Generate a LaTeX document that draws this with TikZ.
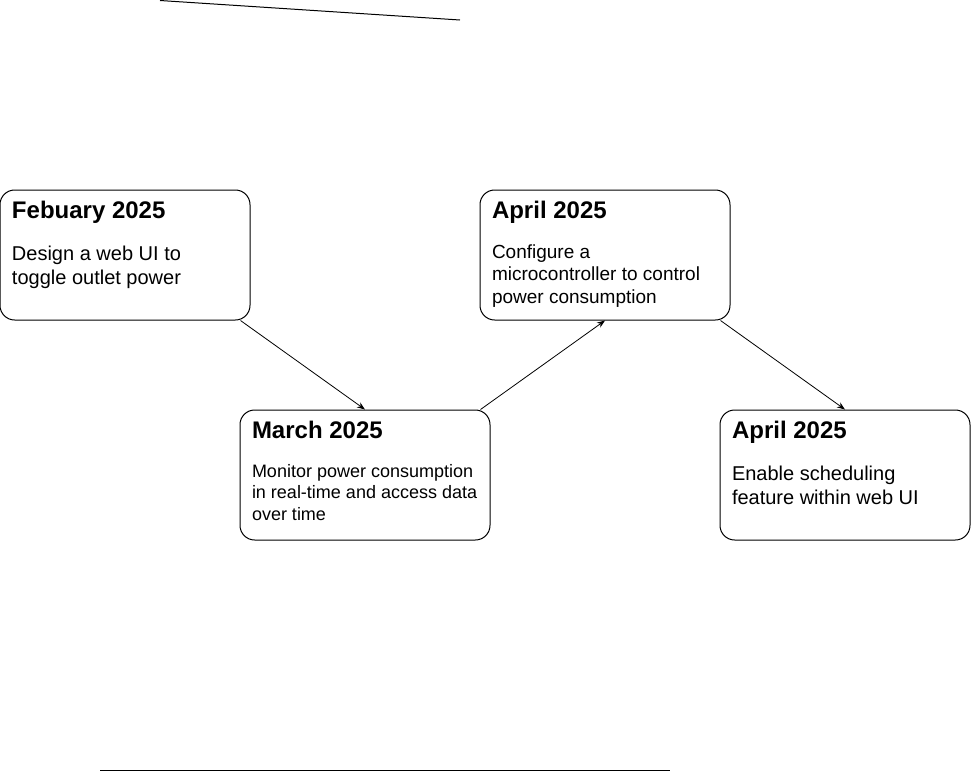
\documentclass[tikz,border=0pt]{standalone}
\usepackage{fontspec}
\setmainfont{Liberation Sans}
\usetikzlibrary{arrows.meta}

\begin{document}
\begin{tikzpicture}[x=0.75pt, y=-0.75pt, line width=0.75pt]
	\tikzset{etape/.style={draw=black, rounded corners=11pt, minimum width=187.5pt, minimum height=97.5pt, inner sep=0pt},
		titre/.style={anchor=base west, inner sep=0pt, font=\bfseries\fontsize{18pt}{21.6pt}\selectfont},
		corps/.style={anchor=base west, inner sep=0pt, align=left, font=\fontsize{15pt}{18pt}\selectfont},
		fleche/.style={-{Stealth[length=6pt, width=4.5pt]}, line width=0.6pt}};

	\useasboundingbox (0,0) rectangle (971,772);

	% les quatre etapes
	\node[etape] (fev)    at (125, 255) {};
	\node[etape] (avril1) at (605, 255) {};
	\node[etape] (mars)   at (365, 475) {};
	\node[etape] (avril2) at (845, 475) {};

	\node[titre] (fev-t)    at ([shift={(12,29)}]fev.north west)    {Febuary 2025};
	\node[titre] (avril1-t) at ([shift={(12,29)}]avril1.north west) {April 2025};
	\node[titre] (mars-t)   at ([shift={(12,29)}]mars.north west)   {March 2025};
	\node[titre] (avril2-t) at ([shift={(12,29)}]avril2.north west) {April 2025};

	% (la base d'un texte sur plusieurs lignes est celle de sa derniere ligne)
	\node[corps] (fev-c)    at ([shift={(12,95)}]fev.north west)    {Design a web UI to\\toggle outlet power};
	\node[corps, font=\fontsize{14.25pt}{17pt}\selectfont] (avril1-c) at ([shift={(12,114)}]avril1.north west) {Configure a\\microcontroller to control\\power consumption};
	\node[corps, font=\fontsize{13.5pt}{16.2pt}\selectfont] (mars-c) at ([shift={(12,111)}]mars.north west) {Monitor power consumption\\in real-time and access data\\over time};
	\node[corps] (avril2-c) at ([shift={(12,95)}]avril2.north west) {Enable scheduling\\feature within web UI};

	% fleches
	\draw[fleche] ([xshift=-7.5pt]fev.south east) -- (mars.north);
	\draw[fleche] ([xshift=-7.5pt]mars.north east) -- (avril1.south);
	\draw[fleche] ([xshift=-7.5pt]avril1.south east) -- (avril2.north);

	% traits isoles
	\coordinate (h1) at (160, 0.5);
	\coordinate (h2) at (460, 20);
	\coordinate (b1) at (100, 770);
	\coordinate (b2) at (670, 770);
	\draw (h1) -- (h2);
	\draw (b1) -- (b2);
\end{tikzpicture}
\end{document}
